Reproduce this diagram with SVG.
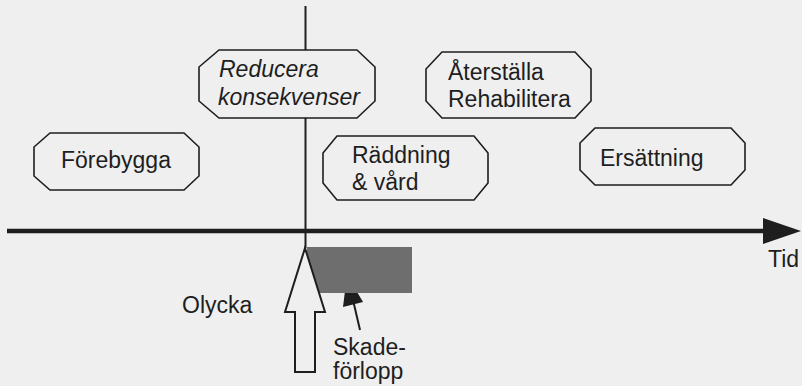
<svg xmlns="http://www.w3.org/2000/svg" width="802" height="386" viewBox="0 0 802 386">
<style>
.bg{fill:#efefef}
.node{fill:#efefef;stroke:#1e1e1e;stroke-width:1.6}
.t{font-family:"Liberation Sans",Arial,sans-serif;font-size:23px;fill:#1e1e1e}
.i{font-style:italic}
.ln{stroke:#1e1e1e;fill:none}
</style>
<rect class="bg" x="0" y="0" width="802" height="386"/>
<g id="connectors">
<line class="ln" x1="305.5" y1="6" x2="305.5" y2="50" stroke-width="2"/>
<line class="ln" x1="305.5" y1="118" x2="305.5" y2="248" stroke-width="2"/>
<line class="ln" x1="7" y1="231" x2="765" y2="231" stroke-width="4.5"/>
<polygon points="763,218 801,231 763,244" fill="#1e1e1e"/>
<line class="ln" x1="360" y1="330" x2="353" y2="300" stroke-width="2"/>
<polygon points="347,275 363,302 343,307" fill="#1e1e1e"/>
</g>
<g id="skadeforlopp-bar">
<rect x="307" y="247" width="105" height="46" fill="#6e6e6e"/>
</g>
<g id="olycka-arrow">
<polygon points="305,248 325,312 315,312 315,372 295,372 295,312 285,312" fill="#efefef" stroke="#1e1e1e" stroke-width="2" stroke-linejoin="miter"/>
</g>
<g id="reducera">
<polygon class="node" points="219,50 357,50 375,67 375,101 357,118 219,118 199,101 199,67"/>
<text class="t i" x="219" y="77">Reducera</text>
<text class="t i" x="218" y="105">konsekvenser</text>
</g>
<g id="forebygga">
<polygon class="node" points="50,133 184,133 199,147 199,176 184,190 50,190 34,176 34,147"/>
<text class="t" x="61" y="168">Förebygga</text>
</g>
<g id="raddning">
<polygon class="node" points="337,136 474,136 488,153 488,183 474,200 337,200 323,183 323,153"/>
<text class="t" x="352" y="163">Räddning</text>
<text class="t" x="352" y="190">&amp; vård</text>
</g>
<g id="aterstalla">
<polygon class="node" points="442,52 575,52 591,69 591,101 575,118 442,118 426,101 426,69"/>
<text class="t" x="448" y="80">Återställa</text>
<text class="t" x="448" y="107">Rehabilitera</text>
</g>
<g id="ersattning">
<polygon class="node" points="595,128 731,128 745,143 745,170 731,185 595,185 580,170 580,143"/>
<text class="t" x="600" y="166">Ersättning</text>
</g>
<g id="labels">
<text class="t" x="182" y="313">Olycka</text>
<text class="t" x="333" y="355">Skade-</text>
<text class="t" x="333" y="379">förlopp</text>
<text class="t" x="768" y="267">Tid</text>
</g>
</svg>
